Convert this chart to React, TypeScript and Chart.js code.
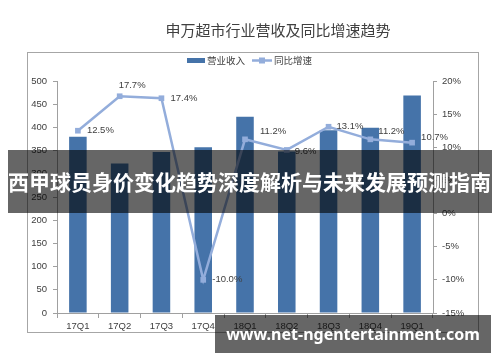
import React, { useEffect, useRef } from "react";
import { Chart, registerables } from "chart.js";

Chart.register(...registerables);

const categories = ["17Q1", "17Q2", "17Q3", "17Q4", "18Q1", "18Q2", "18Q3", "18Q4", "19Q1"];
const revenue = [380, 322, 347, 357, 423, 348, 394, 399, 469];
const growth = [12.5, 17.7, 17.4, -10.0, 11.2, 9.6, 13.1, 11.2, 10.7];
const leftTicks = [0, 50, 100, 150, 200, 250, 300, 350, 400, 450, 500];
const rightTicks = [-15, -10, -5, 0, 5, 10, 15, 20];

const TITLE = "申万超市行业营收及同比增速趋势";
const BAR_LABEL = "营业收入";
const LINE_LABEL = "同比增速";
const BANNER = "西甲球员身价变化趋势深度解析与未来发展预测指南";
const URL_TEXT = "www.net-ngentertainment.com";

const BAR_COLOR = "#4573a9";
const LINE_COLOR = "#93addb";
const TEXT_COLOR = "#404040";
const CJK = '"Noto Sans CJK SC", "Noto Sans", sans-serif';
const SANS = '"Liberation Sans", Arial, sans-serif';

// label offsets relative to each point (style only)
const labelDx = [9, -1, 9, 9, 15, 8, 8, 8, 9];
const labelDy = [0, -11, 0, 0, -8, 1, 0, -8, -5];

const decorPlugin = {
  id: "decor",
  beforeDraw(chart: any) {
    const ctx = chart.ctx;
    ctx.save();
    ctx.fillStyle = "#ffffff";
    ctx.fillRect(0, 0, chart.width, chart.height);
    ctx.restore();
  },
  afterDraw(chart: any) {
    const ctx = chart.ctx;
    ctx.save();
    // frame
    ctx.strokeStyle = "#a6a6a6";
    ctx.lineWidth = 1;
    ctx.strokeRect(27.5, 52.5, 451, 280);
    // title
    ctx.fillStyle = TEXT_COLOR;
    ctx.font = `15px ${CJK}`;
    ctx.textAlign = "center";
    ctx.textBaseline = "middle";
    ctx.fillText(TITLE, 278, 30);
    // legend
    ctx.font = `9.5px ${CJK}`;
    ctx.textAlign = "left";
    ctx.fillStyle = BAR_COLOR;
    ctx.fillRect(187, 58, 18, 5);
    ctx.fillStyle = TEXT_COLOR;
    ctx.fillText(BAR_LABEL, 207, 60);
    ctx.strokeStyle = LINE_COLOR;
    ctx.lineWidth = 2.5;
    ctx.beginPath();
    ctx.moveTo(252, 60.5);
    ctx.lineTo(272, 60.5);
    ctx.stroke();
    ctx.fillStyle = LINE_COLOR;
    ctx.fillRect(259, 57.5, 6, 6);
    ctx.fillStyle = TEXT_COLOR;
    ctx.fillText(LINE_LABEL, 274, 60);
    // data labels
    const meta = chart.getDatasetMeta(1);
    ctx.font = `9.5px ${SANS}`;
    ctx.textBaseline = "middle";
    meta.data.forEach((pt: any, i: number) => {
      const v = growth[i];
      ctx.fillText(v.toFixed(1) + "%", pt.x + labelDx[i], pt.y + labelDy[i]);
    });
    ctx.restore();
  },
};

export default function App() {
  const ref = useRef<HTMLCanvasElement | null>(null);

  useEffect(() => {
    if (!ref.current) return;
    const tickFont = { size: 9.5, family: SANS };
    const chart = new Chart(ref.current, {
      type: "bar",
      data: {
        labels: categories,
        datasets: [
          {
            type: "bar",
            label: BAR_LABEL,
            data: revenue,
            backgroundColor: BAR_COLOR,
            yAxisID: "y",
            categoryPercentage: 1,
            barPercentage: 0.42,
            order: 2,
          },
          {
            type: "line",
            label: LINE_LABEL,
            data: growth,
            borderColor: LINE_COLOR,
            backgroundColor: LINE_COLOR,
            borderWidth: 2.5,
            pointStyle: "rect",
            pointRadius: 4,
            pointBorderWidth: 0,
            pointBackgroundColor: LINE_COLOR,
            yAxisID: "y1",
            tension: 0,
            order: 1,
          },
        ],
      },
      options: {
        animation: false,
        responsive: false,
        devicePixelRatio: 1,
        layout: { padding: { top: 81, bottom: 29, left: 0, right: 0 } },
        plugins: {
          legend: { display: false },
          title: { display: false },
          tooltip: { enabled: false },
        },
        scales: {
          x: {
            offset: true,
            grid: {
              display: true,
              offset: true,
              drawOnChartArea: false,
              drawTicks: true,
              tickLength: 5,
              color: "#a0a0a0",
            },
            border: { display: true, color: "#a0a0a0" },
            ticks: { color: TEXT_COLOR, font: tickFont, padding: 3, maxRotation: 0 },
            afterFit(s: any) {
              s.height = 20;
            },
          },
          y: {
            position: "left",
            min: 0,
            max: 500,
            grid: {
              drawOnChartArea: false,
              drawTicks: true,
              tickLength: 4,
              color: "#a0a0a0",
            },
            border: { display: true, color: "#a0a0a0" },
            afterBuildTicks(s: any) {
              s.ticks = leftTicks.map((v) => ({ value: v }));
            },
            ticks: { color: TEXT_COLOR, font: tickFont, padding: 6 },
            afterFit(s: any) {
              s.width = 57;
            },
          },
          y1: {
            position: "right",
            min: -15,
            max: 20,
            grid: {
              drawOnChartArea: false,
              drawTicks: true,
              tickLength: 4,
              color: "#a0a0a0",
            },
            border: { display: true, color: "#a0a0a0" },
            afterBuildTicks(s: any) {
              s.ticks = rightTicks.map((v) => ({ value: v }));
            },
            ticks: {
              color: TEXT_COLOR,
              font: tickFont,
              padding: 5,
              callback: (v: any) => v + "%",
            },
            afterFit(s: any) {
              s.width = 67;
            },
          },
        },
      },
      plugins: [decorPlugin],
    } as any);
    return () => chart.destroy();
  }, []);

  return (
    <div style={{ position: "absolute", left: 0, top: 0, width: 500, height: 362, background: "#fff" }}>
      <canvas ref={ref} width={500} height={362} style={{ display: "block", width: 500, height: 362 }} />
      <div
        style={{
          position: "absolute",
          left: 8,
          top: 150,
          width: 484,
          height: 63,
          background: "rgba(0,0,0,0.6)",
          color: "#fff",
          fontFamily: CJK,
          fontWeight: 700,
          fontSize: 21,
          lineHeight: "63px",
          whiteSpace: "nowrap",
          overflow: "hidden",
        }}
      >
        {BANNER}
      </div>
      <div
        style={{
          position: "absolute",
          left: 215,
          top: 315,
          width: 276,
          height: 38,
          background: "rgba(0,0,0,0.6)",
          color: "#fff",
          fontFamily: '"Noto Sans", sans-serif',
          fontWeight: 700,
          fontSize: 16,
          lineHeight: "38px",
          textAlign: "center",
          whiteSpace: "nowrap",
        }}
      >
        {URL_TEXT}
      </div>
    </div>
  );
}
